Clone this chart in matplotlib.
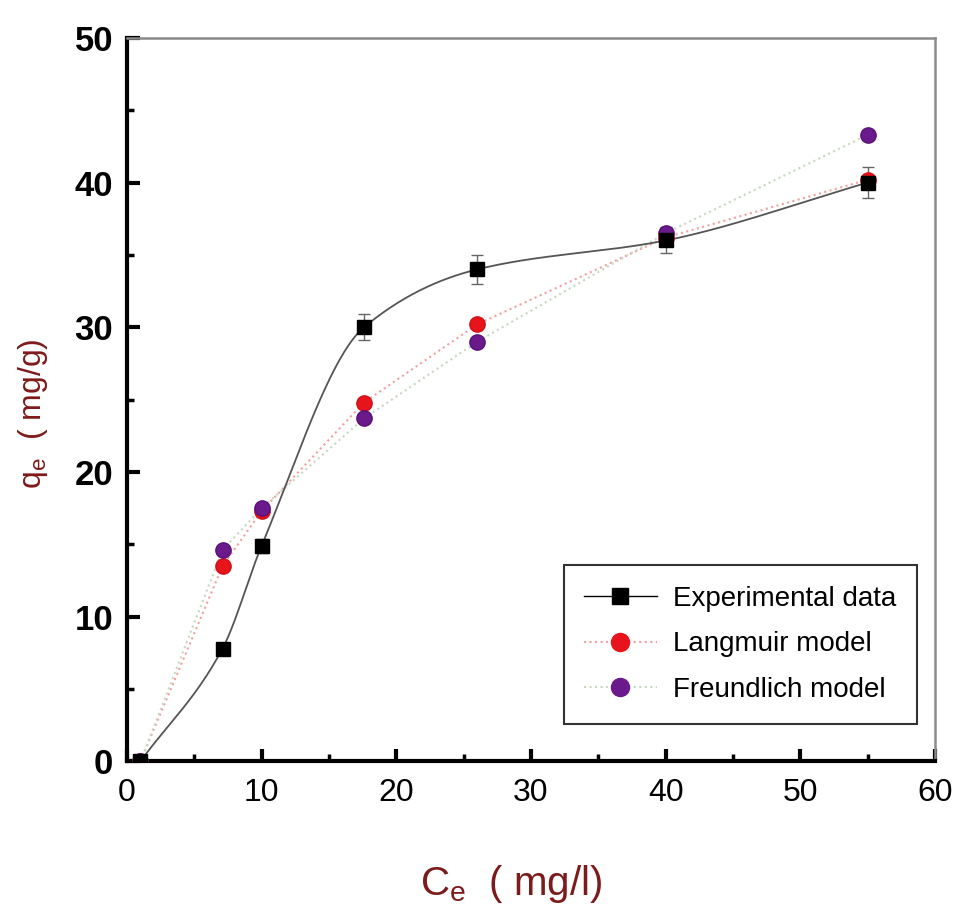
import numpy as np
import matplotlib
matplotlib.use('Agg')
import matplotlib.pyplot as plt
from matplotlib.ticker import MultipleLocator

plt.rcParams['font.family'] = ['Liberation Sans', 'DejaVu Sans']
plt.rcParams['mathtext.default'] = 'regular'

# data
ce = [1.0, 7.1, 10.0, 17.6, 26.0, 40.0, 55.0]
q_exp = [0.0, 7.8, 14.9, 30.0, 34.0, 36.0, 40.0]
q_err = [0.0, 0.4, 0.5, 0.9, 1.0, 0.9, 1.1]
q_lang = [0.0, 13.5, 17.3, 24.8, 30.2, 36.2, 40.2]
q_freu = [0.0, 14.6, 17.5, 23.7, 29.0, 36.5, 43.3]

label_red = '#7d1a1a'


def pchip(x, y, n=400):
    # monotone cubic, similar to Origin's spline connection
    x = np.asarray(x, float)
    y = np.asarray(y, float)
    h = np.diff(x)
    d = np.diff(y) / h
    m = np.zeros_like(y)
    for k in range(1, len(x) - 1):
        if d[k - 1] * d[k] > 0:
            w1 = 2 * h[k] + h[k - 1]
            w2 = h[k] + 2 * h[k - 1]
            m[k] = (w1 + w2) / (w1 / d[k - 1] + w2 / d[k])
    m[0] = d[0]
    m[-1] = d[-1]
    xs = np.linspace(x[0], x[-1], n)
    idx = np.clip(np.searchsorted(x, xs) - 1, 0, len(h) - 1)
    t = (xs - x[idx]) / h[idx]
    h00 = 2 * t**3 - 3 * t**2 + 1
    h10 = t**3 - 2 * t**2 + t
    h01 = -2 * t**3 + 3 * t**2
    h11 = t**3 - t**2
    ys = h00 * y[idx] + h10 * h[idx] * m[idx] + h01 * y[idx + 1] + h11 * h[idx] * m[idx + 1]
    return xs, ys


fig = plt.figure(figsize=(9.69, 9.24), dpi=100)
ax = fig.add_axes([0.131, 0.176, 0.834, 0.783])

# model lines (faint dotted)
ax.plot(ce, q_lang, ':', color='#f2a0a0', lw=1.5, zorder=1)
ax.plot(ce, q_freu, ':', color='#c8d8c0', lw=1.5, zorder=1)

xs, ys = pchip(ce, q_exp)
ax.plot(xs, ys, '-', color='#555555', lw=1.3, zorder=2)
ax.errorbar(ce, q_exp, yerr=q_err, fmt='none', ecolor='#666666', elinewidth=1,
            capsize=4, capthick=1, zorder=2)

ax.plot(ce, q_lang, 'o', color='#e8141c', ms=11, mec='#d01018', zorder=3)
ax.plot(ce, q_freu, 'o', color='#6a1a8a', ms=11, mec='#5a1078', zorder=4)
ax.plot(ce, q_exp, 's', color='black', ms=10.5, zorder=5)

# legend proxies
h1, = ax.plot([], [], '-s', color='black', lw=1, ms=11, mfc='black')
h2, = ax.plot([], [], ':o', color='#f2a0a0', lw=1.5, ms=13, mfc='#e8141c', mec='#e8141c')
h3, = ax.plot([], [], ':o', color='#c8d8c0', lw=1.5, ms=13, mfc='#6a1a8a', mec='#6a1a8a')
leg = ax.legend([h1, h2, h3], ['Experimental data', 'Langmuir model', 'Freundlich model'],
                loc='lower right', bbox_to_anchor=(0.978, 0.052), borderaxespad=0,
                fontsize=20, frameon=True, fancybox=False, edgecolor='black',
                handlelength=2.6, labelspacing=0.7, borderpad=0.75, handletextpad=0.6)
leg.get_frame().set_linewidth(1.5)

ax.set_xlim(0, 60)
ax.set_ylim(0, 50)
ax.xaxis.set_major_locator(MultipleLocator(10))
ax.xaxis.set_minor_locator(MultipleLocator(5))
ax.yaxis.set_major_locator(MultipleLocator(10))
ax.yaxis.set_minor_locator(MultipleLocator(5))

for s in ['left', 'bottom']:
    ax.spines[s].set_linewidth(3)
    ax.spines[s].set_color('black')
for s in ['top', 'right']:
    ax.spines[s].set_linewidth(1.8)
    ax.spines[s].set_color('#8a8a8a')

ax.tick_params(which='major', direction='in', length=9, width=3, top=False, right=False)
ax.tick_params(which='minor', direction='in', length=5, width=2.5, top=False, right=False)
ax.tick_params(axis='x', labelsize=23, pad=12)
ax.tick_params(axis='y', labelsize=25, pad=10)
for lab in ax.get_yticklabels():
    lab.set_fontweight('bold')

ax.set_xlabel(r'$C_e$  ( mg/l)', fontsize=29, color=label_red)
ax.xaxis.set_label_coords(0.475, -0.14)
ax.set_ylabel(r'$q_e$  ( mg/g)', fontsize=23, color=label_red)
ax.yaxis.set_label_coords(-0.095, 0.48)

fig.savefig('out.png', dpi=100)
